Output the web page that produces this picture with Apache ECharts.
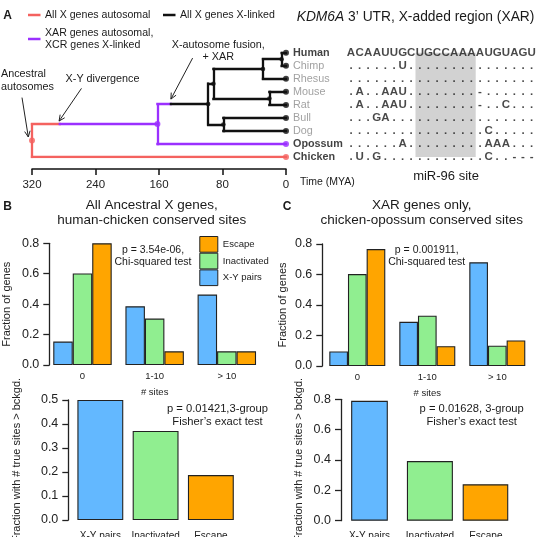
<!DOCTYPE html>
<html><head><meta charset="utf-8">
<script src="https://cdn.jsdelivr.net/npm/echarts@6/dist/echarts.min.js"></script>
<style>html,body{margin:0;padding:0;background:#fff}#c{width:537px;height:537px}</style>
</head><body><div id="c"></div><script>
const FONT = '"Liberation Sans", Arial, Helvetica, sans-serif';
// ---------- Panel A: tree ----------
const species = ['Human','Chimp','Rhesus','Mouse','Rat','Bull','Dog','Opossum','Chicken'];
const speciesBold = ['Human','Opossum','Chicken'];
const nodeNames = ['HC','Primates','Rodents','Euarchontoglires','Laurasiatheria','Eutheria','Theria','Amniota'];
const nodeAges = [5.5, 29, 21, 91.5, 79, 98, 162, 320];
const nodeChildren = [['Human','Chimp'],['HC','Rhesus'],['Mouse','Rat'],['Primates','Rodents'],['Bull','Dog'],['Euarchontoglires','Laurasiatheria'],['Eutheria','Opossum'],['Theria','Chicken']];
const eventLabels = ['Ancestral\nautosomes','X-Y divergence','X-autosome fusion,\n+ XAR'];
const eventAges = [320, 285, 145];
const eventClades = ['Amniota','Theria','Eutheria'];
const timeTicks = [320, 240, 160, 80, 0];
const legendA = ['All X genes autosomal','XAR genes autosomal,\nXCR genes X-linked','All X genes X-linked'];
// ---------- Panel A: alignment ----------
const seqRows = [
  'ACAAUUGCUGCCAAAAUGUAGU',
  '......U...............',
  '......................',
  '.A..AAU........-......',
  '.A..AAU........-..C...',
  '...GA.................',
  '................C.....',
  '......A.........AAA...',
  '.U.G............C..---'
];
const siteStart = 8, siteEnd = 14;
// ---------- Panels B, C ----------
const siteBins = ['0','1-10','> 10'];
const groups = ['X-Y pairs','Inactivated','Escape'];
const bXY = [0.154, 0.386, 0.463];
const bInact = [0.602, 0.305, 0.09];
const bEsc = [0.80, 0.09, 0.09];
const cXY = [0.095, 0.29, 0.68];
const cInact = [0.603, 0.33, 0.133];
const cEsc = [0.767, 0.13, 0.168];
const bBottom = [0.50, 0.371, 0.187];
const cBottom = [0.79, 0.393, 0.24];

const RED = '#f4625f', PURPLE = '#9b30ff', BLACK = '#111111', GRAY = '#8a8a8a';
const BLUE = '#63b8ff', GREEN = '#90ee90', ORANGE = '#ffa500';
const eventColors = [RED, PURPLE, BLACK];
const groupColors = [BLUE, GREEN, ORANGE];

const pos = {};
species.forEach((s, i) => pos[s] = {age: 0, y: i});
nodeNames.forEach((n, k) => { const [a, b] = nodeChildren[k]; pos[n] = {age: nodeAges[k], y: (pos[a].y + pos[b].y) / 2}; });
function contains(clade, name) {
  if (clade === name) return true;
  const k = nodeNames.indexOf(clade);
  if (k < 0) return false;
  return nodeChildren[k].some(c => contains(c, name));
}
function colorAt(name, t) {
  let col = RED, best = Infinity;
  eventAges.forEach((ea, i) => { if (ea >= t - 1e-9 && contains(eventClades[i], name) && ea < best) { best = ea; col = eventColors[i]; } });
  return col;
}
const segs = [];
nodeNames.forEach((n, k) => {
  const p = pos[n];
  const ncol = colorAt(n, p.age);
  nodeChildren[k].forEach(c => {
    const q = pos[c];
    segs.push({coords: [[p.age, p.y], [p.age, q.y]], color: ncol});
    const cuts = [p.age];
    eventAges.forEach((ea, i) => { if (ea < p.age && ea > q.age && contains(eventClades[i], c)) cuts.push(ea); });
    cuts.sort((a, b) => b - a); cuts.push(q.age);
    for (let j = 0; j < cuts.length - 1; j++) {
      segs.push({coords: [[cuts[j], q.y], [cuts[j + 1], q.y]], color: colorAt(c, (cuts[j] + cuts[j + 1]) / 2)});
    }
  });
});
segs.sort((a, b) => (a.color === BLACK ? 1 : 0) - (b.color === BLACK ? 1 : 0));
const nodeDots = nodeNames.map(n => {
  const col = colorAt(n, pos[n].age);
  return {value: [pos[n].age, pos[n].y], itemStyle: {color: col}, symbolSize: col === BLACK ? 4.5 : 6};
});
const leafDots = species.map(s => {
  const bold = speciesBold.includes(s);
  return {value: [0, pos[s].y], name: s, itemStyle: {color: colorAt(s, 0)},
    label: {color: bold ? '#111' : GRAY, fontWeight: bold ? 'bold' : 'normal'}};
});
const seqData = [];
seqRows.forEach((row, r) => { for (let i = 0; i < row.length; i++) seqData.push({value: [i, r], name: row[i]}); });

function valAxis(grid, max, interval, offset, name, nameGap) {
  return {type: 'value', gridIndex: grid, min: 0, max: max, interval: interval, offset: offset,
    name: name, nameLocation: 'middle', nameGap: nameGap, nameTextStyle: {fontSize: 11, fontFamily: FONT, color: '#222'},
    axisLine: {show: true, onZero: false, lineStyle: {color: '#222', width: 1.3}},
    axisTick: {show: true, length: 6, lineStyle: {color: '#222', width: 1.3}},
    splitLine: {show: false},
    axisLabel: {fontSize: 12.5, fontFamily: FONT, color: '#222', margin: 10, formatter: v => v.toFixed(1)}};
}
function catAxis(grid, data, labelSize, margin, name, nameGap) {
  return {type: 'category', gridIndex: grid, data: data, axisLine: {show: false, onZero: false}, axisTick: {show: false},
    name: name, nameLocation: 'middle', nameGap: nameGap, nameTextStyle: {fontSize: 9.5, fontFamily: FONT, color: '#222'},
    axisLabel: {interval: 0, fontSize: labelSize, fontFamily: FONT, color: '#222', margin: margin}};
}
const barBorder = {borderColor: '#222', borderWidth: 1.1};
function groupSeries(names, vals, xi, gap) {
  return names.map((nm, i) => ({type: 'bar', name: nm, xAxisIndex: xi, yAxisIndex: xi, data: vals[i],
    itemStyle: Object.assign({color: groupColors[i]}, barBorder), barGap: '0%', barCategoryGap: gap, silent: true}));
}
function grid(l, r, t, b) { return {left: l, right: r, top: t, bottom: b, containLabel: false, outerBoundsMode: 'none'}; }

// panel C bottom: blue bar is narrower in the figure; one series per bar, overlapping (last one sets start)
const cBottomWidths = [36.7, 46, 45.6];
const cBottomOrder = [1, 2, 0];
const cBottomSeries = cBottomOrder.map(i => ({type: 'bar', xAxisIndex: 5, yAxisIndex: 5, silent: true,
  barWidth: cBottomWidths[i], barGap: '-100%',
  data: cBottom.map((v, j) => j === i ? {value: v, itemStyle: Object.assign({color: groupColors[i]}, barBorder)} : '-')}));
const cAxis = catAxis(5, groups, 10, 11, '', 0);
cAxis.axisLabel.formatter = (v, i) => '{c' + i + '|' + v + '}';
cAxis.axisLabel.rich = {c0: {fontSize: 10, fontFamily: FONT, color: '#222'},
  c1: {fontSize: 10, fontFamily: FONT, color: '#222', padding: [0, 0, 0, 9.5]},
  c2: {fontSize: 10, fontFamily: FONT, color: '#222', padding: [0, 0, 0, 9.6]}};

const option = {
  animation: false,
  backgroundColor: '#fff',
  textStyle: {fontFamily: FONT},
  grid: [
    grid(32, 251, 52.7, 379.9),
    grid(346.7, 1.1, 52.7, 379.9),
    grid(46.4, 274.1, 243.3, 172),
    grid(322.3, 4.7, 244, 171),
    grid(72.7, 298.5, 400, 17),
    grid(341.6, 28.1, 399.3, 16.3)
  ],
  xAxis: [
    {type: 'value', gridIndex: 0, min: 0, max: 320, interval: 80, inverse: true, position: 'bottom', offset: 12,
      axisLine: {show: true, onZero: false, lineStyle: {color: '#111', width: 1.5}},
      axisTick: {show: true, length: 6, lineStyle: {color: '#111', width: 1.5}},
      splitLine: {show: false},
      axisLabel: {fontSize: 11.5, fontFamily: FONT, color: '#222', margin: 10}},
    {type: 'value', gridIndex: 1, min: -0.5, max: 21.5, show: false},
    catAxis(2, siteBins, 9.5, 6, '# sites', 22),
    catAxis(3, siteBins, 9.5, 6, '# sites', 22),
    catAxis(4, groups, 10, 11, '', 0),
    cAxis
  ],
  yAxis: [
    {type: 'value', gridIndex: 0, min: 0, max: 8, inverse: true, show: false},
    {type: 'value', gridIndex: 1, min: 0, max: 8, inverse: true, show: false},
    valAxis(2, 0.8, 0.2, -2.9, 'Fraction of genes', 37),
    valAxis(3, 0.8, 0.2, 0, 'Fraction of genes', 33.5),
    valAxis(4, 0.5, 0.1, 4.4, 'Fraction with # true sites > bckgd.', 46),
    valAxis(5, 0.8, 0.2, 0.6, 'Fraction with # true sites > bckgd.', 37)
  ],
  legend: {orient: 'vertical', left: 199.3, top: 236, itemGap: 0, itemWidth: 18, itemHeight: 15.7, padding: 0,
    icon: 'rect', selectedMode: false, data: ['Escape', 'Inactivated', 'X-Y pairs'],
    itemStyle: {borderColor: '#222', borderWidth: 1},
    textStyle: {fontSize: 9.5, fontFamily: FONT, color: '#222'}},
  series: [
    {type: 'lines', coordinateSystem: 'cartesian2d', xAxisIndex: 0, yAxisIndex: 0, silent: true, z: 2,
      lineStyle: {width: 2.3, opacity: 1, cap: 'square'},
      data: segs.map(s => ({coords: s.coords, lineStyle: {color: s.color}}))},
    {type: 'scatter', xAxisIndex: 0, yAxisIndex: 0, silent: true, z: 3, data: nodeDots},
    {type: 'scatter', xAxisIndex: 0, yAxisIndex: 0, silent: true, z: 3, symbolSize: 6, data: leafDots,
      label: {show: true, position: 'right', distance: 4, formatter: '{b}', fontSize: 10.8, fontFamily: FONT}},
    {type: 'scatter', xAxisIndex: 1, yAxisIndex: 1, silent: true, z: 3, symbolSize: 1, itemStyle: {color: 'transparent'},
      data: seqData,
      label: {show: true, position: 'inside', formatter: '{b}', fontSize: 11.5, fontWeight: 'bold', fontFamily: FONT, color: '#1a1a1a'},
      markArea: {silent: true, itemStyle: {color: '#d2d2d2'},
        data: [[{xAxis: siteStart - 0.5, yAxis: -0.46}, {xAxis: siteEnd + 0.5, yAxis: 8.45}]]}},
    ...groupSeries(groups, [bXY, bInact, bEsc], 2, '19%'),
    ...groupSeries(groups, [cXY, cInact, cEsc], 3, '20%'),
    {type: 'bar', xAxisIndex: 4, yAxisIndex: 4, silent: true, barCategoryGap: '17%',
      data: bBottom.map((v, i) => ({value: v, itemStyle: Object.assign({color: groupColors[i]}, barBorder)}))},
    ...cBottomSeries
  ]
};
const chart = echarts.init(document.getElementById('c'), null, {renderer: 'canvas', width: 537, height: 537});
chart.setOption(option);

const G = [];
function text(x, y, s, o) {
  G.push({type: 'text', x: x, y: y, silent: true, z: 10,
    style: Object.assign({text: s, fontFamily: FONT, fill: '#1a1a1a', fontSize: 11, align: 'left', verticalAlign: 'middle'}, o || {})});
}
function arrow(tail, tip) {
  G.push({type: 'line', silent: true, z: 10, shape: {x1: tail[0], y1: tail[1], x2: tip[0], y2: tip[1]}, style: {stroke: '#222', lineWidth: 1}});
  const dx = tip[0] - tail[0], dy = tip[1] - tail[1], L = Math.hypot(dx, dy), ux = dx / L, uy = dy / L;
  const h = 6.5, a = 25 * Math.PI / 180;
  const p1 = [tip[0] - h * (ux * Math.cos(a) - uy * Math.sin(a)), tip[1] - h * (uy * Math.cos(a) + ux * Math.sin(a))];
  const p2 = [tip[0] - h * (ux * Math.cos(a) + uy * Math.sin(a)), tip[1] - h * (uy * Math.cos(a) - ux * Math.sin(a))];
  G.push({type: 'polyline', silent: true, z: 10, shape: {points: [p1, tip, p2]}, style: {stroke: '#222', lineWidth: 1, fill: null}});
}
function px(age, y) { return chart.convertToPixel({xAxisIndex: 0, yAxisIndex: 0}, [age, y]); }

text(7.5, 16, 'A', {fontWeight: 'bold', fontSize: 12, align: 'center'});
text(7.5, 206.5, 'B', {fontWeight: 'bold', fontSize: 12, align: 'center'});
text(287, 206.5, 'C', {fontWeight: 'bold', fontSize: 12, align: 'center'});
const legCols = [RED, PURPLE, BLACK];
const legPos = [[28, 15], [28, 39], [163, 15]];
legendA.forEach((s, i) => {
  const [x, y] = legPos[i];
  G.push({type: 'line', silent: true, shape: {x1: x, y1: y, x2: x + 12.5, y2: y}, style: {stroke: legCols[i], lineWidth: 2.5}});
  text(x + 17, y, s, {fontSize: 10.6, lineHeight: 12.3});
});
const evAnchors = eventClades.map((c, i) => px(eventAges[i], pos[c].y));
const tipOff = [[-3.7, -3.6], [-0.7, -3], [0, -5]];
const tailOff = [[-6.3, -39.4], [22.4, -32.7], [21.7, -41]];
evAnchors.forEach((p, i) => {
  const tip = [p[0] + tipOff[i][0], p[1] + tipOff[i][1]];
  arrow([tip[0] + tailOff[i][0], tip[1] + tailOff[i][1]], tip);
});
text(1, 80.7, eventLabels[0], {fontSize: 10.8, lineHeight: 13.3});
text(102.5, 79, eventLabels[1], {fontSize: 10.8, align: 'center'});
text(218.3, 51.2, eventLabels[2], {fontSize: 10.8, lineHeight: 12.3, align: 'center'});
text(296.7, 17, '{i|KDM6A} 3\u2019 UTR, X-added region (XAR)', {fontSize: 13.8, rich: {i: {fontStyle: 'italic', fontSize: 13.8, fontFamily: FONT}}});
text(300, 181.7, 'Time (MYA)', {fontSize: 10.5});
text(446, 176, 'miR-96 site', {fontSize: 13, align: 'center'});
text(151.7, 212.8, 'All Ancestral X genes,\nhuman-chicken conserved sites', {fontSize: 13.5, lineHeight: 15.7, align: 'center'});
text(421.7, 212.8, 'XAR genes only,\nchicken-opossum conserved sites', {fontSize: 13.5, lineHeight: 15.7, align: 'center'});
text(153, 255.8, 'p = 3.54e-06,\nChi-squared test', {fontSize: 10.5, lineHeight: 11.8, align: 'center'});
text(426.7, 255.8, 'p = 0.001911,\nChi-squared test', {fontSize: 10.5, lineHeight: 11.8, align: 'center'});
text(217.5, 415.3, 'p = 0.01421,3-group\nFisher\u2019s exact test', {fontSize: 11.2, lineHeight: 12.6, align: 'center'});
text(471.7, 415.5, 'p = 0.01628, 3-group\nFisher\u2019s exact test', {fontSize: 11.2, lineHeight: 12.6, align: 'center'});
chart.setOption({graphic: G});
</script></body></html>
